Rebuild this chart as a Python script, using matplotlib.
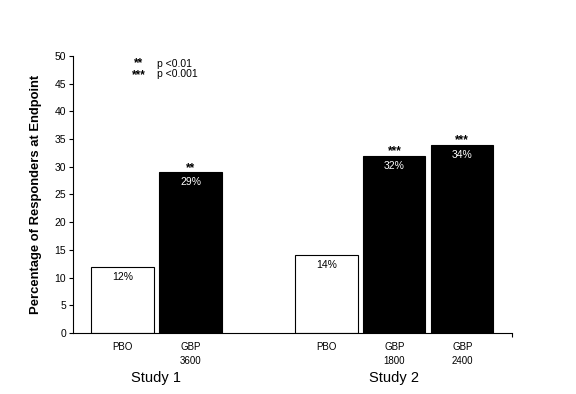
import matplotlib.pyplot as plt

plt.rcParams["font.family"] = ["Liberation Sans", "DejaVu Sans"]

# data
bar_labels = ["PBO", "GBP\n3600", "PBO", "GBP\n1800", "GBP\n2400"]
positions = [0, 1, 3, 4, 5]
responders = [12, 29, 14, 32, 34]
value_text = ["12%", "29%", "14%", "32%", "34%"]
stars = ["", "**", "", "***", "***"]
is_active = [False, True, False, True, True]
study_names = ["Study 1", "Study 2"]
study_centers = [0.5, 4.0]

fig = plt.figure(figsize=(5.76, 3.94), dpi=100)
ax = fig.add_axes([0.1267, 0.1548, 0.7622, 0.7032])

colors = ["black" if a else "white" for a in is_active]
ax.bar(positions, responders, width=0.915, color=colors, edgecolor="black", linewidth=0.8)

for x, y, txt, star, active in zip(positions, responders, value_text, stars, is_active):
    ax.text(x, y - 0.9, txt, ha="center", va="top", fontsize=7.5,
            color="white" if active else "black")
    if star:
        ax.text(x, y - 0.3, star, ha="center", va="bottom", fontsize=8.5, fontweight="bold")

ax.set_xlim(-0.728, 5.73)
ax.set_ylim(0, 50)
ax.set_yticks(range(0, 51, 5))
ax.tick_params(axis="y", direction="out", length=3, width=0.8, labelsize=7.5, pad=2)
ax.set_xticks([5.73])
ax.set_xticklabels([""])
ax.tick_params(axis="x", direction="out", length=3, width=0.8)
for side in ["top", "right"]:
    ax.spines[side].set_visible(False)
for side in ["left", "bottom"]:
    ax.spines[side].set_linewidth(0.8)

ax.set_ylabel("Percentage of Responders at Endpoint", fontsize=9.4, fontweight="bold", labelpad=9)

for x, lab in zip(positions, bar_labels):
    ax.annotate(lab, xy=(x, 0), xycoords="data", xytext=(0, -6.5), textcoords="offset points",
                ha="center", va="top", fontsize=7, linespacing=1.5)

for name, cx in zip(study_names, study_centers):
    ax.annotate(name, xy=(cx, 0), xycoords="data", xytext=(0, -27), textcoords="offset points",
                ha="center", va="top", fontsize=10.5)

# significance key
ax.text(0.24, 48.7, "**", ha="center", va="center", fontsize=8.5, fontweight="bold")
ax.text(0.24, 46.6, "***", ha="center", va="center", fontsize=8.5, fontweight="bold")
ax.text(0.51, 48.6, "p <0.01", ha="left", va="center", fontsize=7.5)
ax.text(0.51, 46.7, "p <0.001", ha="left", va="center", fontsize=7.5)

fig.savefig("out.png", dpi=100)
